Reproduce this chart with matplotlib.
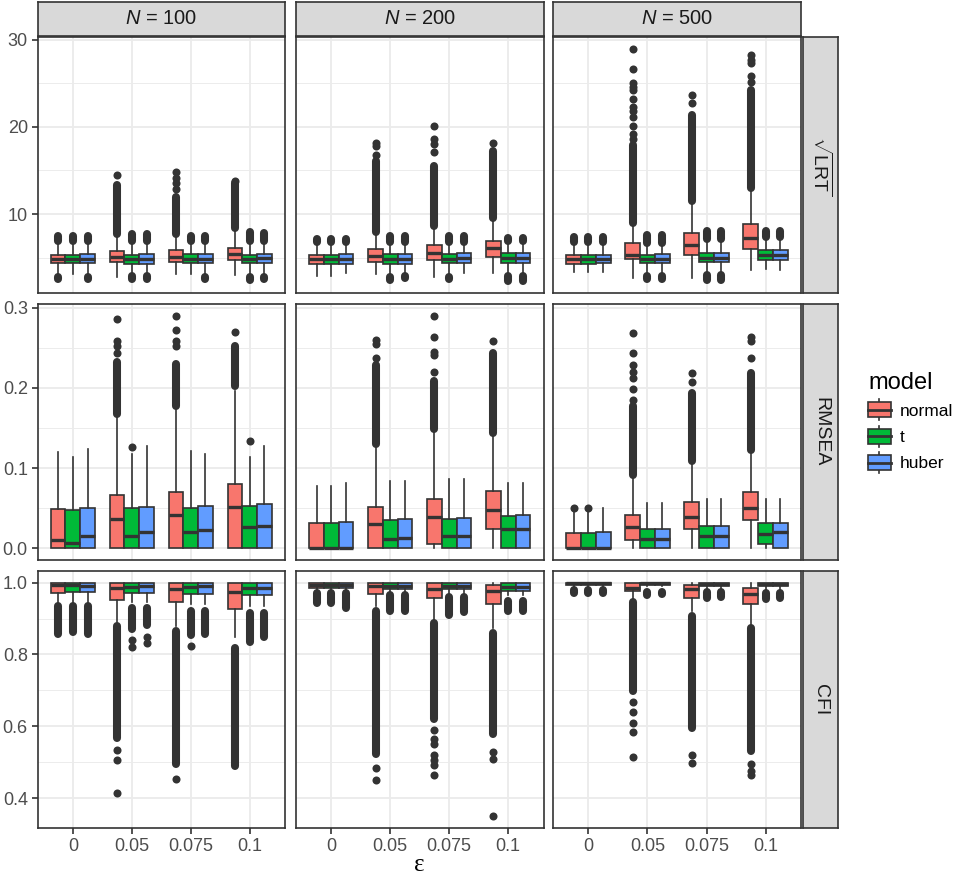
import matplotlib
matplotlib.use("Agg")
import matplotlib.pyplot as plt
from matplotlib.patches import Rectangle, Patch
from matplotlib.lines import Line2D
from matplotlib.legend_handler import HandlerBase

plt.rcParams['font.family'] = ['Liberation Sans', 'DejaVu Sans']
plt.rcParams['mathtext.fontset'] = 'custom'
plt.rcParams['mathtext.rm'] = 'Liberation Sans'
plt.rcParams['mathtext.it'] = 'Liberation Sans:italic'
plt.rcParams['mathtext.bf'] = 'Liberation Sans:bold'

# ---------------- data ----------------
N_VALUES = ['100', '200', '500']
EPS = ['0', '0.05', '0.075', '0.1']
MODELS = ['normal', 't', 'huber']
METRICS = ['LRT', 'RMSEA', 'CFI']
STRIP_R = [r'$\sqrt{\mathrm{LRT}}$', 'RMSEA', 'CFI']

# arrays indexed [N][eps][model]
LRT_WLO = [[[3.2, 3.2, 3.2], [2.8, 3.2, 3.2], [3.1, 3.2, 3.2], [3.0, 3.1, 3.2]],
           [[2.9, 2.9, 3.3], [3.2, 3.2, 3.3], [2.8, 3.2, 3.3], [3.3, 3.3, 3.3]],
           [[3.4, 3.4, 3.4], [2.7, 3.2, 3.2], [2.7, 3.3, 3.3], [3.55, 3.7, 3.6]]]
LRT_Q1 = [[[4.4, 4.35, 4.4], [4.55, 4.3, 4.3], [4.55, 4.35, 4.4], [4.8, 4.45, 4.45]],
          [[4.3, 4.3, 4.3], [4.55, 4.3, 4.3], [4.8, 4.35, 4.4], [5.1, 4.45, 4.45]],
          [[4.3, 4.3, 4.35], [4.9, 4.4, 4.4], [5.35, 4.5, 4.5], [6.0, 4.75, 4.7]]]
LRT_MED = [[[4.9, 4.85, 4.9], [5.1, 4.85, 4.85], [5.1, 4.9, 4.9], [5.45, 4.9, 4.95]],
           [[4.85, 4.85, 4.85], [5.2, 4.85, 4.9], [5.55, 4.9, 4.95], [6.1, 5.0, 5.0]],
           [[4.85, 4.85, 4.85], [5.35, 4.85, 4.85], [6.5, 5.0, 5.0], [7.25, 5.3, 5.3]]]
LRT_Q3 = [[[5.35, 5.3, 5.4], [5.8, 5.35, 5.4], [5.9, 5.45, 5.45], [6.1, 5.35, 5.45]],
          [[5.35, 5.35, 5.4], [6.0, 5.4, 5.45], [6.5, 5.45, 5.5], [6.95, 5.5, 5.55]],
          [[5.3, 5.3, 5.35], [6.7, 5.35, 5.4], [7.85, 5.6, 5.6], [8.85, 5.9, 5.85]]]
LRT_WHI = [[[6.8, 6.8, 6.8], [7.6, 6.8, 6.8], [7.6, 6.8, 6.8], [8.3, 6.8, 6.8]],
           [[6.7, 6.7, 6.7], [7.8, 6.75, 6.75], [8.6, 6.75, 6.75], [9.5, 6.8, 6.8]],
           [[6.7, 6.7, 6.7], [8.9, 6.7, 6.7], [11.4, 7.0, 7.0], [12.9, 7.2, 7.2]]]
# dense runs of outliers: (N, eps, model, lowest, highest)
LRT_OUT_RUNS = [
    (0, 0, 0, 6.95, 7.5), (0, 0, 0, 2.6, 2.8), (0, 0, 1, 6.95, 7.45), (0, 0, 1, 2.7, 2.7),
    (0, 0, 2, 6.95, 7.55), (0, 0, 2, 2.6, 2.8),
    (0, 1, 0, 7.7, 13.3), (0, 1, 1, 6.9, 7.7), (0, 1, 1, 2.6, 2.9), (0, 1, 2, 6.9, 7.7), (0, 1, 2, 2.6, 2.9),
    (0, 2, 0, 7.7, 12.0), (0, 2, 0, 2.7, 2.7), (0, 2, 1, 6.95, 7.5), (0, 2, 1, 2.7, 2.7),
    (0, 2, 2, 6.95, 7.45), (0, 2, 2, 2.6, 2.8),
    (0, 3, 0, 8.45, 13.6), (0, 3, 0, 2.4, 2.4), (0, 3, 1, 6.95, 7.95), (0, 3, 1, 2.5, 2.8),
    (0, 3, 2, 6.95, 7.8), (0, 3, 2, 2.6, 2.8),
    (1, 0, 0, 6.8, 7.2), (1, 0, 1, 6.8, 7.2), (1, 0, 2, 6.8, 7.2), (1, 0, 2, 2.8, 2.8),
    (1, 1, 0, 7.9, 16.05), (1, 1, 0, 2.7, 2.7), (1, 1, 1, 6.85, 7.5), (1, 1, 1, 2.5, 2.8),
    (1, 1, 2, 6.85, 7.5), (1, 1, 2, 2.7, 2.9),
    (1, 2, 0, 8.7, 15.5), (1, 2, 1, 6.85, 7.5), (1, 2, 1, 2.6, 2.8), (1, 2, 2, 6.85, 7.5), (1, 2, 2, 2.75, 2.85),
    (1, 3, 0, 9.6, 17.2), (1, 3, 0, 2.3, 2.3), (1, 3, 1, 6.95, 7.3), (1, 3, 1, 2.4, 2.9),
    (1, 3, 2, 6.95, 7.3), (1, 3, 2, 2.4, 2.9),
    (2, 0, 0, 6.85, 7.4), (2, 0, 0, 2.9, 2.9), (2, 0, 1, 6.85, 7.4), (2, 0, 1, 2.9, 2.9),
    (2, 0, 2, 6.85, 7.4), (2, 0, 2, 2.9, 2.9),
    (2, 1, 0, 9.0, 17.95), (2, 1, 1, 6.75, 7.65), (2, 1, 1, 2.55, 2.9), (2, 1, 2, 6.75, 7.65), (2, 1, 2, 2.55, 2.9),
    (2, 2, 0, 11.5, 21.4), (2, 2, 1, 7.2, 8.1), (2, 2, 1, 2.5, 3.0), (2, 2, 2, 7.2, 8.1), (2, 2, 2, 2.5, 3.0),
    (2, 3, 0, 13.0, 24.2), (2, 3, 1, 7.4, 8.1), (2, 3, 1, 3.2, 3.2), (2, 3, 2, 7.4, 8.1), (2, 3, 2, 3.1, 3.1),
]
# isolated outliers: (N, eps, model, values)
LRT_OUT_PTS = [
    (0, 1, 0, [14.5]), (0, 2, 0, [12.9, 13.6, 14.1, 14.8]), (0, 3, 0, [13.85]),
    (1, 1, 0, [16.8, 17.8, 18.2]), (1, 2, 0, [17.1, 18.0, 18.6, 20.1]), (1, 3, 0, [18.2]),
    (2, 1, 0, [18.6, 19.2, 20.1, 21.1, 21.8, 22.3, 23.2, 24.2, 24.6, 25.0, 26.6, 28.9]),
    (2, 2, 0, [22.7, 23.7]), (2, 3, 0, [25.1, 25.8, 27.3, 27.7, 28.2]),
]

RMSEA_WLO = [[[0.0, 0.0, 0.0]] * 4] * 3
RMSEA_Q1 = [[[0, 0, 0], [0, 0, 0], [0, 0, 0], [0, 0, 0]],
            [[0, 0, 0], [0, 0, 0], [0.005, 0, 0], [0.024, 0, 0]],
            [[0, 0, 0], [0.011, 0, 0], [0.024, 0, 0], [0.035, 0.005, 0]]]
RMSEA_MED = [[[0.011, 0.007, 0.015], [0.036, 0.015, 0.020], [0.041, 0.020, 0.023], [0.051, 0.026, 0.028]],
             [[0.001, 0.001, 0.001], [0.030, 0.012, 0.013], [0.039, 0.015, 0.016], [0.048, 0.024, 0.024]],
             [[0.001, 0.001, 0.001], [0.026, 0.012, 0.012], [0.039, 0.016, 0.016], [0.050, 0.018, 0.020]]]
RMSEA_Q3 = [[[0.049, 0.048, 0.050], [0.067, 0.050, 0.052], [0.070, 0.050, 0.053], [0.080, 0.053, 0.055]],
            [[0.032, 0.031, 0.033], [0.052, 0.035, 0.036], [0.062, 0.037, 0.038], [0.072, 0.040, 0.041]],
            [[0.019, 0.019, 0.021], [0.042, 0.024, 0.024], [0.058, 0.028, 0.028], [0.070, 0.031, 0.031]]]
RMSEA_WHI = [[[0.120, 0.114, 0.124], [0.165, 0.117, 0.127], [0.173, 0.121, 0.118], [0.196, 0.114, 0.127]],
             [[0.078, 0.078, 0.081], [0.125, 0.084, 0.084], [0.145, 0.086, 0.086], [0.140, 0.082, 0.081]],
             [[0.046, 0.046, 0.050], [0.086, 0.057, 0.057], [0.104, 0.062, 0.062], [0.117, 0.061, 0.061]]]
RMSEA_OUT_RUNS = [
    (0, 1, 0, 0.168, 0.232), (0, 2, 0, 0.177, 0.23), (0, 3, 0, 0.202, 0.252),
    (1, 1, 0, 0.13, 0.228), (1, 2, 0, 0.149, 0.208), (1, 3, 0, 0.144, 0.243),
    (2, 1, 0, 0.091, 0.178), (2, 2, 0, 0.109, 0.194), (2, 3, 0, 0.122, 0.219),
]
RMSEA_OUT_PTS = [
    (0, 1, 0, [0.244, 0.252, 0.258, 0.286]), (0, 1, 1, [0.126]),
    (0, 2, 0, [0.252, 0.258, 0.272, 0.29]), (0, 3, 0, [0.269]), (0, 3, 1, [0.134]),
    (1, 1, 0, [0.237, 0.255, 0.26]), (1, 2, 0, [0.22, 0.241, 0.245, 0.264, 0.289]), (1, 3, 0, [0.259]),
    (2, 0, 0, [0.05]), (2, 0, 1, [0.05]),
    (2, 1, 0, [0.185, 0.199, 0.212, 0.22, 0.228, 0.244, 0.268]),
    (2, 2, 0, [0.207, 0.218]), (2, 3, 0, [0.237, 0.259, 0.263]),
]

CFI_WLO = [[[0.945, 0.945, 0.945], [0.89, 0.945, 0.945], [0.878, 0.94, 0.94], [0.85, 0.935, 0.935]],
           [[0.98, 0.98, 0.98], [0.935, 0.975, 0.975], [0.9, 0.97, 0.97], [0.875, 0.965, 0.965]],
           [[0.99, 0.99, 0.99], [0.955, 0.99, 0.99], [0.92, 0.985, 0.985], [0.885, 0.98, 0.98]]]
CFI_Q1 = [[[0.972, 0.974, 0.974], [0.952, 0.970, 0.970], [0.945, 0.968, 0.968], [0.928, 0.965, 0.965]],
          [[0.986, 0.986, 0.986], [0.968, 0.983, 0.983], [0.956, 0.982, 0.982], [0.94, 0.977, 0.977]],
          [[0.993, 0.993, 0.993], [0.977, 0.993, 0.993], [0.958, 0.992, 0.992], [0.94, 0.99, 0.99]]]
CFI_MED = [[[0.993, 0.993, 0.992], [0.986, 0.989, 0.990], [0.982, 0.988, 0.990], [0.975, 0.986, 0.986]],
           [[0.994, 0.994, 0.994], [0.991, 0.992, 0.992], [0.983, 0.992, 0.992], [0.977, 0.987, 0.987]],
           [[0.998, 0.998, 0.998], [0.984, 0.998, 0.998], [0.982, 0.997, 0.997], [0.968, 0.996, 0.996]]]
CFI_Q3 = [[[0.998, 0.999, 0.999], [0.998, 0.998, 0.998], [0.998, 0.998, 0.998], [0.998, 0.998, 0.998]],
          [[1.0, 1.0, 1.0], [0.998, 0.999, 0.999], [0.998, 0.998, 0.998], [0.993, 0.998, 0.998]],
          [[1.0, 1.0, 1.0], [0.998, 1.0, 1.0], [0.993, 1.0, 1.0], [0.986, 1.0, 1.0]]]
CFI_WHI = [[[1.0, 1.0, 1.0]] * 4,
           [[1.0, 1.0, 1.0]] * 4,
           [[1.0, 1.0, 1.0], [1.0, 1.0, 1.0], [1.0, 1.0, 1.0], [0.998, 1.0, 1.0]]]
CFI_OUT_RUNS = [
    (0, 0, 0, 0.856, 0.934), (0, 0, 1, 0.862, 0.934), (0, 0, 2, 0.856, 0.934),
    (0, 1, 0, 0.568, 0.88), (0, 1, 1, 0.87, 0.929), (0, 1, 2, 0.883, 0.929),
    (0, 2, 0, 0.494, 0.864), (0, 2, 1, 0.854, 0.92), (0, 2, 2, 0.856, 0.92),
    (0, 3, 0, 0.49, 0.818), (0, 3, 1, 0.836, 0.915), (0, 3, 2, 0.85, 0.915),
    (1, 0, 0, 0.942, 0.97), (1, 0, 1, 0.942, 0.97), (1, 0, 2, 0.93, 0.97),
    (1, 1, 0, 0.522, 0.92), (1, 1, 1, 0.92, 0.966), (1, 1, 2, 0.92, 0.966),
    (1, 2, 0, 0.619, 0.889), (1, 2, 1, 0.911, 0.96), (1, 2, 2, 0.918, 0.96),
    (1, 3, 0, 0.577, 0.86), (1, 3, 1, 0.92, 0.948), (1, 3, 2, 0.92, 0.948),
    (2, 0, 0, 0.97, 0.98), (2, 0, 1, 0.97, 0.98), (2, 0, 2, 0.97, 0.98),
    (2, 1, 0, 0.697, 0.947), (2, 1, 1, 0.965, 0.975), (2, 1, 2, 0.969, 0.975),
    (2, 2, 0, 0.596, 0.908), (2, 2, 1, 0.956, 0.975), (2, 2, 2, 0.96, 0.975),
    (2, 3, 0, 0.531, 0.874), (2, 3, 1, 0.954, 0.97), (2, 3, 2, 0.958, 0.97),
]
CFI_OUT_PTS = [
    (0, 1, 0, [0.534, 0.506, 0.414]), (0, 1, 1, [0.84, 0.82]), (0, 1, 2, [0.848, 0.832]),
    (0, 2, 0, [0.453]), (0, 2, 1, [0.823]),
    (1, 1, 0, [0.483, 0.449]), (1, 2, 0, [0.589, 0.565, 0.55, 0.52, 0.505, 0.492, 0.463]),
    (1, 3, 0, [0.529, 0.509, 0.349]),
    (2, 1, 0, [0.668, 0.64, 0.608, 0.585, 0.515]), (2, 2, 0, [0.52, 0.497]),
    (2, 3, 0, [0.494, 0.474, 0.465]),
]

Y_MAJOR = [[10, 20, 30], [0.0, 0.1, 0.2, 0.3], [0.4, 0.6, 0.8, 1.0]]
Y_MAJOR_LABELS = [['10', '20', '30'], ['0.0', '0.1', '0.2', '0.3'], ['0.4', '0.6', '0.8', '1.0']]
Y_MINOR = [[5, 15, 25], [0.05, 0.15, 0.25], [0.5, 0.7, 0.9]]

STATS = {
    'LRT': (LRT_WLO, LRT_Q1, LRT_MED, LRT_Q3, LRT_WHI, LRT_OUT_RUNS, LRT_OUT_PTS),
    'RMSEA': (RMSEA_WLO, RMSEA_Q1, RMSEA_MED, RMSEA_Q3, RMSEA_WHI, RMSEA_OUT_RUNS, RMSEA_OUT_PTS),
    'CFI': (CFI_WLO, CFI_Q1, CFI_MED, CFI_Q3, CFI_WHI, CFI_OUT_RUNS, CFI_OUT_PTS),
}

# ---------------- style ----------------
COLORS = ['#F8766D', '#00BA38', '#619CFF']
EDGE = '#333333'
GRID = '#EBEBEB'
STRIP_BG = '#D9D9D9'
LW = 1.2
DOT = 5.8
DODGE = 0.25

W, H = 964, 876
fig = plt.figure(figsize=(W / 100, H / 100), dpi=100)


def px_axes(x0, y0, x1, y1):
    return fig.add_axes([x0 / W, 1 - y1 / H, (x1 - x0) / W, (y1 - y0) / H])


COLS = [(37.5, 285), (296, 543.5), (553, 801)]
ROWS = [(37.5, 293), (304, 560), (571, 828)]


def style_strip(ax):
    ax.set_facecolor(STRIP_BG)
    ax.set_xticks([])
    ax.set_yticks([])
    for s in ax.spines.values():
        s.set_color(EDGE)
        s.set_linewidth(LW)


for r, metric in enumerate(METRICS):
    WLO, Q1, MED, Q3, WHI, RUNS, PTS = STATS[metric]
    allv = [v for run in RUNS for v in run[3:]] + [v for p in PTS for v in p[3]]
    allv += [x for n in WLO for e in n for x in e] + [x for n in WHI for e in n for x in e]
    lo, hi = min(allv), max(allv)
    pad = 0.05 * (hi - lo)
    for c in range(3):
        ax = px_axes(COLS[c][0], ROWS[r][0], COLS[c][1], ROWS[r][1])
        ax.set_facecolor('white')
        for e in range(len(EPS)):
            for m in range(len(MODELS)):
                pos = e + 1 + (m - 1) * DODGE
                st = [dict(whislo=WLO[c][e][m], q1=Q1[c][e][m], med=MED[c][e][m],
                           q3=Q3[c][e][m], whishi=WHI[c][e][m], fliers=[])]
                ax.bxp(st, positions=[pos], widths=DODGE, patch_artist=True,
                       showcaps=False, showfliers=False, manage_ticks=False,
                       boxprops=dict(facecolor=COLORS[m], edgecolor=EDGE, linewidth=LW),
                       medianprops=dict(color=EDGE, linewidth=2.4, solid_capstyle='butt'),
                       whiskerprops=dict(color=EDGE, linewidth=LW), zorder=3)
        for (n, e, m, a, b) in RUNS:
            if n != c:
                continue
            pos = e + 1 + (m - 1) * DODGE
            ax.plot([pos, pos], [a, b], color=EDGE, lw=DOT, solid_capstyle='round', zorder=2)
        for (n, e, m, vals) in PTS:
            if n != c:
                continue
            pos = e + 1 + (m - 1) * DODGE
            ax.plot([pos] * len(vals), vals, 'o', ms=DOT, color=EDGE, mew=0, zorder=2)

        ax.set_xlim(0.4, len(EPS) + 0.6)
        ax.set_ylim(lo - pad, hi + pad)
        ax.set_xticks(range(1, len(EPS) + 1))
        ax.set_yticks(Y_MAJOR[r])
        ax.set_yticks(Y_MINOR[r], minor=True)
        ax.set_axisbelow(True)
        ax.grid(which='major', color=GRID, lw=1.3)
        ax.grid(which='minor', axis='y', color=GRID, lw=0.65)
        ax.tick_params(which='minor', length=0)
        ax.tick_params(which='major', color=EDGE, width=LW, length=4, labelsize=13,
                       labelcolor='#4D4D4D', pad=3)
        for s in ax.spines.values():
            s.set_color(EDGE)
            s.set_linewidth(LW)
        if c == 0:
            ax.set_yticklabels(Y_MAJOR_LABELS[r])
        else:
            ax.tick_params(axis='y', length=0, labelleft=False)
        if r == len(METRICS) - 1:
            ax.set_xticklabels(EPS)
        else:
            ax.tick_params(axis='x', length=0, labelbottom=False)

        if r == 0:
            sa = px_axes(COLS[c][0], 2, COLS[c][1], 35.5)
            style_strip(sa)
            sa.text(0.5, 0.5, r'$N$ = ' + N_VALUES[c], ha='center', va='center',
                    fontsize=14.5, color='#1A1A1A', transform=sa.transAxes)
    sa = px_axes(803, ROWS[r][0], 838, ROWS[r][1])
    style_strip(sa)
    sa.text(0.5, 0.5, STRIP_R[r], ha='center', va='center', rotation=270,
            fontsize=14, color='#1A1A1A', transform=sa.transAxes)

fig.text(419 / W, 1 - 865 / H, 'ε', ha='center', va='center', fontsize=18,
         family=['Liberation Serif', 'DejaVu Serif'], color='black')


class BoxKey(HandlerBase):
    def create_artists(self, legend, orig_handle, xdescent, ydescent, width, height, fontsize, trans):
        x0, y0 = -xdescent, -ydescent
        cx = x0 + width / 2
        wh = Line2D([cx, cx], [y0, y0 + height], color=EDGE, lw=LW, transform=trans)
        box = Rectangle((x0, y0 + 0.15 * height), width, 0.7 * height,
                        facecolor=orig_handle.get_facecolor(), edgecolor=EDGE, lw=LW, transform=trans)
        md = Line2D([x0, x0 + width], [y0 + height / 2] * 2, color=EDGE, lw=2.0, transform=trans)
        return [wh, box, md]


handles = [Patch(facecolor=col, edgecolor=EDGE) for col in COLORS]
leg = fig.legend(handles, MODELS, handler_map={Patch: BoxKey()}, loc='upper left',
                 bbox_to_anchor=(868 / W, 1 - 372 / H), frameon=False, title='model',
                 title_fontsize=17, fontsize=12.5, handlelength=1.32, handleheight=1.5,
                 labelspacing=0.3, handletextpad=0.5, borderpad=0, borderaxespad=0,
                 alignment='left')

fig.savefig('out.png', dpi=100)
